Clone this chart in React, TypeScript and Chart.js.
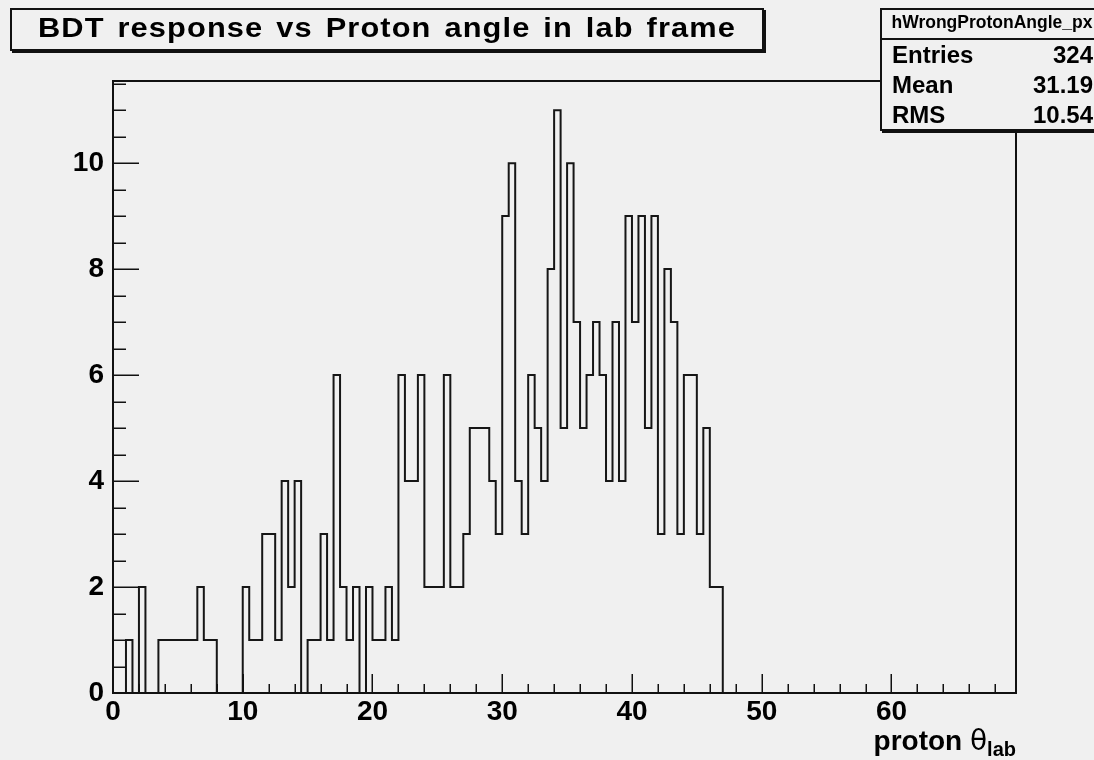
import React, { useEffect, useRef } from "react";
import { Chart, registerables } from "chart.js";

Chart.register(...registerables);

// ---------- data ----------
const binWidth = 0.5;
const binValues = [
  0, 0, 1, 0, 2, 0, 0, 1, 1, 1,
  1, 1, 1, 2, 1, 1, 0, 0, 0, 0,
  2, 1, 1, 3, 3, 1, 4, 2, 4, 0,
  1, 1, 3, 1, 6, 2, 1, 2, 0, 2,
  1, 1, 2, 1, 6, 4, 4, 6, 2, 2,
  2, 6, 2, 2, 3, 5, 5, 5, 4, 3,
  9, 10, 4, 3, 6, 5, 4, 8, 11, 5,
  10, 7, 5, 6, 7, 6, 4, 7, 4, 9,
  7, 9, 5, 9, 3, 8, 7, 3, 6, 6,
  3, 5, 2, 2, 0, 0, 0, 0, 0, 0,
  0, 0, 0, 0, 0, 0, 0, 0, 0, 0,
  0, 0, 0, 0, 0, 0, 0, 0, 0, 0,
  0, 0, 0, 0, 0, 0, 0, 0, 0, 0,
  0, 0, 0, 0, 0, 0, 0, 0, 0, 0,
];
const xMin = 0;
const xMax = 69.6;
const yMin = 0;
const yMax = 11.55;
const xTickLabels = [0, 10, 20, 30, 40, 50, 60];
const xMinorStep = 2;
const yTickLabels = [0, 2, 4, 6, 8, 10];
const yMinorStep = 0.5;

const chartTitle = "BDT response vs Proton angle in lab frame";
const statsName = "hWrongProtonAngle_px";
const statsLabels = ["Entries", "Mean", "RMS"];
const statsValues = ["324", "31.19", "10.54"];
const xTitleMain = "proton ";
const xTitleSymbol = "θ";
const xTitleSub = "lab";

// ---------- styling ----------
const BG = "#f0f0f0";
const INK = "#111111";
const SANS = '"Liberation Sans", Arial, Helvetica, sans-serif';

const rootFramePlugin = {
  id: "rootFrame",
  afterDatasetsDraw(chart: any) {
    const { ctx, chartArea, scales } = chart;
    const { left, right, top, bottom } = chartArea;
    const xs = scales.x;
    const ys = scales.y;
    ctx.save();
    ctx.strokeStyle = INK;
    ctx.lineWidth = 2;
    ctx.strokeRect(left, top, right - left, bottom - top);

    ctx.lineWidth = 1.5;
    for (let v = yMin; v <= yMax + 1e-9; v += yMinorStep) {
      const py = Math.round(ys.getPixelForValue(v)) + 0.25;
      const major = yTickLabels.indexOf(v) >= 0;
      ctx.beginPath();
      ctx.moveTo(left, py);
      ctx.lineTo(left + (major ? 26 : 13), py);
      ctx.stroke();
    }
    for (let v = xMin; v <= xMax + 1e-9; v += xMinorStep) {
      const px = Math.round(xs.getPixelForValue(v)) + 0.25;
      const major = xTickLabels.indexOf(v) >= 0;
      ctx.beginPath();
      ctx.moveTo(px, bottom);
      ctx.lineTo(px, bottom - (major ? 19 : 9));
      ctx.stroke();
    }

    // x axis title: proton θ_lab, right-aligned to the frame
    const mainFont = `bold 28px ${SANS}`;
    const symFont = `28px "DejaVu Sans", sans-serif`;
    const subFont = `bold 20px ${SANS}`;
    ctx.fillStyle = "#000";
    ctx.textBaseline = "alphabetic";
    ctx.textAlign = "left";
    ctx.font = mainFont;
    const w1 = ctx.measureText(xTitleMain).width;
    ctx.font = symFont;
    const w2 = ctx.measureText(xTitleSymbol).width;
    ctx.font = subFont;
    const w3 = ctx.measureText(xTitleSub).width;
    let xpos = right - (w1 + w2 + w3);
    const base = 750;
    ctx.font = mainFont;
    ctx.fillText(xTitleMain, xpos, base);
    xpos += w1;
    ctx.font = symFont;
    ctx.fillText(xTitleSymbol, xpos, base);
    xpos += w2;
    ctx.font = subFont;
    ctx.fillText(xTitleSub, xpos, base + 6);
    ctx.restore();
  },
};

export default function App() {
  const canvasRef = useRef<HTMLCanvasElement | null>(null);

  useEffect(() => {
    document.body.style.margin = "0";
    document.body.style.background = BG;
    const canvas = canvasRef.current;
    if (!canvas) return;

    const points = binValues.map((v, i) => ({ x: i * binWidth, y: v }));
    points.push({ x: binValues.length * binWidth, y: binValues[binValues.length - 1] });

    const tickFont = { family: SANS, size: 28, weight: "bold" as const };

    const chart = new Chart(canvas, {
      type: "line",
      data: {
        datasets: [
          {
            label: statsName,
            data: points,
            stepped: true,
            borderColor: "#161616",
            borderWidth: 2,
            pointRadius: 0,
            fill: false,
          },
        ],
      },
      plugins: [rootFramePlugin],
      options: {
        animation: false,
        responsive: false,
        maintainAspectRatio: false,
        devicePixelRatio: 1,
        layout: { padding: { left: 0, top: 81, right: 78, bottom: 0 } },
        plugins: {
          legend: { display: false },
          tooltip: { enabled: false },
          title: { display: false },
        },
        scales: {
          x: {
            type: "linear",
            min: xMin,
            max: xMax,
            grid: { display: false, drawTicks: false },
            border: { display: false },
            afterBuildTicks: (scale: any) => {
              scale.ticks = xTickLabels.map((v) => ({ value: v }));
            },
            afterFit: (scale: any) => {
              scale.height = 67;
            },
            ticks: {
              autoSkip: false,
              maxRotation: 0,
              padding: 2,
              color: "#000",
              font: tickFont,
              callback: (v: any) => String(v),
            },
          },
          y: {
            type: "linear",
            min: yMin,
            max: yMax,
            grid: { display: false, drawTicks: false },
            border: { display: false },
            afterBuildTicks: (scale: any) => {
              scale.ticks = yTickLabels.map((v) => ({ value: v }));
            },
            afterFit: (scale: any) => {
              scale.width = 113;
            },
            ticks: {
              autoSkip: false,
              padding: 9,
              color: "#000",
              font: tickFont,
              callback: (v: any) => String(v),
            },
          },
        },
      },
    });
    return () => chart.destroy();
  }, []);

  const boxBorder = `2px solid ${INK}`;

  return (
    <div
      style={{
        position: "relative",
        width: 1094,
        height: 760,
        overflow: "hidden",
        background: BG,
        fontFamily: SANS,
      }}
    >
      <canvas
        ref={canvasRef}
        width={1094}
        height={760}
        style={{ position: "absolute", left: 0, top: 0, width: 1094, height: 760 }}
      />
      {/* title pave */}
      <div
        style={{
          position: "absolute",
          left: 10,
          top: 8,
          width: 750,
          height: 39,
          border: boxBorder,
          boxShadow: `2px 2px 0 ${INK}`,
          background: BG,
        }}
      >
        <div
          style={{
            position: "absolute",
            left: 0,
            top: 1,
            width: "100%",
            textAlign: "center",
            fontWeight: "bold",
            fontSize: 28,
            lineHeight: "33.6px",
            letterSpacing: "1px",
            wordSpacing: "3px",
            whiteSpace: "nowrap",
            color: "#000",
            transform: "scaleX(1.1)",
            transformOrigin: "50% 50%",
          }}
        >
          {chartTitle}
        </div>
      </div>
      {/* stats box */}
      <div
        style={{
          position: "absolute",
          left: 880,
          top: 8,
          width: 220,
          height: 119,
          border: boxBorder,
          boxShadow: `2px 2px 0 ${INK}`,
          background: BG,
        }}
      >
        <div
          style={{
            position: "absolute",
            left: 0,
            top: 2,
            width: "100%",
            textAlign: "center",
            fontWeight: "bold",
            fontSize: 17.5,
            lineHeight: "20px",
            whiteSpace: "nowrap",
            color: "#000",
          }}
        >
          {statsName}
        </div>
        <div
          style={{
            position: "absolute",
            left: 0,
            top: 28,
            width: "100%",
            height: 0,
            borderTop: boxBorder,
          }}
        />
        {statsLabels.map((lab, i) => (
          <div
            key={lab}
            style={{
              position: "absolute",
              left: 10,
              right: 9,
              top: 31 + i * 30,
              height: 28,
              lineHeight: "28px",
              fontSize: 24,
              fontWeight: "bold",
              color: "#000",
              display: "flex",
              justifyContent: "space-between",
              whiteSpace: "nowrap",
            }}
          >
            <span>{lab}</span>
            <span>{statsValues[i]}</span>
          </div>
        ))}
      </div>
    </div>
  );
}
